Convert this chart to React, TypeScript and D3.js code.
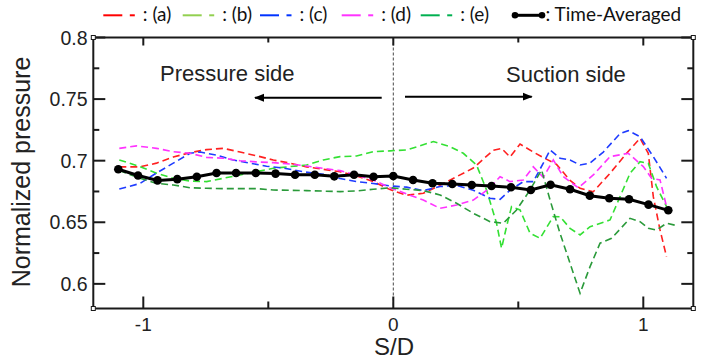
import React from "react";
import * as d3 from "d3";

// ---------- data ----------
const avgX = [-1.1, -1.021, -0.943, -0.864, -0.786, -0.707, -0.629, -0.55, -0.471, -0.393, -0.314, -0.236, -0.157, -0.079, 0, 0.079, 0.157, 0.236, 0.314, 0.393, 0.471, 0.55, 0.629, 0.707, 0.786, 0.864, 0.943, 1.021, 1.1];
const avgY = [0.693, 0.688, 0.684, 0.685, 0.687, 0.69, 0.69, 0.69, 0.6895, 0.6886, 0.6886, 0.6873, 0.6886, 0.687, 0.6875, 0.6843, 0.6817, 0.6811, 0.6803, 0.6795, 0.6784, 0.6762, 0.6805, 0.6768, 0.6716, 0.6695, 0.6687, 0.6643, 0.6597];

const aX = [-1.096, -1.013, -0.947, -0.88, -0.813, -0.747, -0.68, -0.613, -0.547, -0.48, -0.413, -0.347, -0.28, -0.213, -0.147, -0.08, -0.013, 0.053, 0.12, 0.187, 0.253, 0.32, 0.4, 0.433, 0.467, 0.507, 0.56, 0.6, 0.653, 0.707, 0.747, 0.8, 0.867, 0.933, 0.987, 1.02, 1.04, 1.067, 1.093];
const aY = [0.695, 0.695, 0.698, 0.703, 0.7065, 0.709, 0.71, 0.707, 0.704, 0.7005, 0.698, 0.695, 0.693, 0.691, 0.6875, 0.683, 0.6765, 0.672, 0.6735, 0.68, 0.687, 0.694, 0.7085, 0.71, 0.703, 0.7135, 0.707, 0.7025, 0.697, 0.684, 0.6776, 0.6748, 0.6898, 0.706, 0.7182, 0.706, 0.6708, 0.6437, 0.622];

const bX = [-1.096, -1.013, -0.947, -0.88, -0.813, -0.747, -0.68, -0.613, -0.547, -0.48, -0.413, -0.347, -0.28, -0.213, -0.147, -0.08, -0.013, 0.053, 0.16, 0.227, 0.28, 0.333, 0.373, 0.413, 0.433, 0.453, 0.473, 0.507, 0.547, 0.587, 0.64, 0.667, 0.707, 0.747, 0.787, 0.867, 0.907, 0.947, 0.987, 1.02, 1.053, 1.093];
const bY = [0.7006, 0.6952, 0.6898, 0.6857, 0.6835, 0.683, 0.6857, 0.6884, 0.6911, 0.6938, 0.6952, 0.6965, 0.7006, 0.7033, 0.7038, 0.7073, 0.708, 0.7087, 0.7155, 0.7114, 0.706, 0.6965, 0.6762, 0.6492, 0.6289, 0.6465, 0.6627, 0.66, 0.6411, 0.637, 0.6546, 0.6545, 0.6451, 0.6397, 0.6464, 0.6519, 0.6708, 0.6898, 0.6992, 0.6979, 0.6789, 0.6627];

const cX = [-1.096, -1.013, -0.947, -0.88, -0.813, -0.773, -0.707, -0.64, -0.573, -0.507, -0.44, -0.36, -0.28, -0.213, -0.147, -0.08, -0.013, 0.053, 0.12, 0.187, 0.253, 0.32, 0.387, 0.427, 0.467, 0.52, 0.56, 0.6, 0.627, 0.667, 0.707, 0.747, 0.787, 0.84, 0.907, 0.94, 0.987, 1.04, 1.093];
const cY = [0.677, 0.6815, 0.69, 0.698, 0.706, 0.707, 0.7045, 0.7005, 0.698, 0.6955, 0.694, 0.691, 0.689, 0.6855, 0.683, 0.6815, 0.6795, 0.6785, 0.6757, 0.679, 0.68, 0.676, 0.6695, 0.6686, 0.676, 0.683, 0.683, 0.698, 0.7087, 0.702, 0.7005, 0.6965, 0.698, 0.707, 0.722, 0.7244, 0.7195, 0.7033, 0.6857];

const dX = [-1.096, -1.027, -0.947, -0.88, -0.813, -0.747, -0.68, -0.613, -0.547, -0.48, -0.413, -0.347, -0.28, -0.213, -0.147, -0.08, -0.013, 0.053, 0.12, 0.187, 0.253, 0.32, 0.387, 0.427, 0.467, 0.52, 0.56, 0.6, 0.64, 0.68, 0.74, 0.8, 0.867, 0.94, 1.0, 1.033, 1.067, 1.093];
const dY = [0.71, 0.712, 0.71, 0.7073, 0.706, 0.7027, 0.702, 0.7, 0.699, 0.6984, 0.6973, 0.6957, 0.6938, 0.6919, 0.6884, 0.6843, 0.678, 0.673, 0.668, 0.6613, 0.664, 0.668, 0.678, 0.687, 0.683, 0.6843, 0.695, 0.6865, 0.7006, 0.687, 0.678, 0.6884, 0.7033, 0.706, 0.6952, 0.6857, 0.6843, 0.6627];

const eX = [-1.096, -1.013, -0.947, -0.88, -0.813, -0.747, -0.68, -0.547, -0.48, -0.347, -0.213, -0.147, -0.08, -0.013, 0.053, 0.12, 0.187, 0.253, 0.32, 0.387, 0.44, 0.493, 0.547, 0.593, 0.627, 0.667, 0.707, 0.747, 0.787, 0.827, 0.873, 0.947, 0.987, 1.02, 1.053, 1.093, 1.14];
const eY = [0.692, 0.6857, 0.6816, 0.6803, 0.678, 0.6776, 0.6773, 0.6773, 0.6762, 0.6757, 0.6749, 0.6754, 0.6768, 0.678, 0.6768, 0.6757, 0.6722, 0.6654, 0.6573, 0.6505, 0.6492, 0.66, 0.6762, 0.6925, 0.6681, 0.641, 0.6167, 0.5924, 0.614, 0.633, 0.637, 0.6532, 0.6505, 0.6451, 0.6437, 0.6492, 0.647];

const seriesNames = ["(a)", "(b)", "(c)", "(d)", "(e)"];
const lineColors = ["#ff2020", "#33e033", "#1f3cff", "#ff33ff", "#2a9a3a"];
const legendColors = ["#ff0000", "#92d050", "#0033ff", "#ff33ff", "#00b050"];
const xTicksMajor = [-1, 0, 1];
const xTicksMinor = [-0.5, 0.5];
const yTicksMajor = [0.6, 0.65, 0.7, 0.75, 0.8];
const yTicksMinor = [0.625, 0.675, 0.725, 0.775];
const yTickLabels = ["0.6", "0.65", "0.7", "0.75", "0.8"];
const xTickLabels = ["-1", "0", "1"];

export default function App() {
  const L = 93.3, R = 693.3, T = 37.5, B = 308.5;
  const x = d3.scaleLinear().domain([-1.2, 1.2]).range([L, R]);
  const y = d3.scaleLinear().domain([0.58, 0.8]).range([B, T]);
  const line = d3.line<[number, number]>().x((d) => x(d[0])).y((d) => y(d[1]));
  const zip = (xs: number[], ys: number[]) => xs.map((v, i) => [v, ys[i]] as [number, number]);
  const dashed = [zip(aX, aY), zip(bX, bY), zip(cX, cY), zip(dX, dY), zip(eX, eY)];
  const avg = zip(avgX, avgY);
  const axisFont = "'Liberation Sans', Arial, sans-serif";
  const legFont = "Lato, 'Open Sans', sans-serif";
  const legendStarts = [103.3, 182.7, 260, 341.7, 420.7];
  const frame = "#1a1a1a";

  return (
    <svg width={712} height={363} style={{ position: "absolute", left: 0, top: 0, background: "#fff" }}>
      <defs>
        <marker id="ah" viewBox="0 0 10 10" refX="9" refY="5" markerWidth="5" markerHeight="5" orient="auto-start-reverse">
          <path d="M0,1 L10,5 L0,9 Z" fill="#000" />
        </marker>
        <clipPath id="plot">
          <rect x={L} y={T} width={R - L} height={B - T} />
        </clipPath>
      </defs>

      {/* legend */}
      {seriesNames.map((n, i) => {
        const s = legendStarts[i];
        return (
          <g key={n}>
            <line x1={s} x2={s + 19} y1={15.3} y2={15.3} stroke={legendColors[i]} strokeWidth={2} />
            <line x1={s + 26.5} x2={s + 31.5} y1={15.3} y2={15.3} stroke={legendColors[i]} strokeWidth={2} />
            <text x={s + 39.5} y={21} fontFamily={legFont} fontSize={19} fill="#111">{": " + n}</text>
          </g>
        );
      })}
      <line x1={513.5} x2={543.5} y1={15.3} y2={15.3} stroke="#000" strokeWidth={3} />
      <circle cx={515} cy={15.3} r={3.3} fill="#000" />
      <circle cx={542} cy={15.3} r={3.3} fill="#000" />
      <text x={545.5} y={21} fontFamily={legFont} fontSize={19} fill="#111">: Time-Averaged</text>

      {/* zero dashed line */}
      <line x1={x(0)} x2={x(0)} y1={T} y2={B} stroke="#333" strokeWidth={0.9} strokeDasharray="3,2" />

      {/* series */}
      <g clipPath="url(#plot)">
        {dashed.map((d, i) => (
          <path key={i} d={line(d) || ""} fill="none" stroke={lineColors[i]} strokeWidth={1.6} strokeDasharray="7,4" />
        ))}
        <path d={line(avg) || ""} fill="none" stroke="#000" strokeWidth={3} />
        {avg.map((d, i) => (
          <circle key={i} cx={x(d[0])} cy={y(d[1])} r={4.3} fill="#000" />
        ))}
      </g>

      {/* frame */}
      <rect x={L} y={T} width={R - L} height={B - T} fill="none" stroke={frame} strokeWidth={2} />
      {/* ticks */}
      {yTicksMajor.map((v) => (
        <g key={"ym" + v}>
          <line x1={L} x2={L + 12} y1={y(v)} y2={y(v)} stroke={frame} strokeWidth={2} />
          <line x1={R} x2={R - 12} y1={y(v)} y2={y(v)} stroke={frame} strokeWidth={2} />
        </g>
      ))}
      {yTicksMinor.map((v) => (
        <g key={"yn" + v}>
          <line x1={L} x2={L + 6} y1={y(v)} y2={y(v)} stroke={frame} strokeWidth={2} />
          <line x1={R} x2={R - 6} y1={y(v)} y2={y(v)} stroke={frame} strokeWidth={2} />
        </g>
      ))}
      {xTicksMajor.map((v) => (
        <g key={"xm" + v}>
          <line x1={x(v)} x2={x(v)} y1={B} y2={B - 12} stroke={frame} strokeWidth={2} />
          <line x1={x(v)} x2={x(v)} y1={T} y2={T + 8} stroke={frame} strokeWidth={2} />
        </g>
      ))}
      {xTicksMinor.map((v) => (
        <g key={"xn" + v}>
          <line x1={x(v)} x2={x(v)} y1={B} y2={B - 7} stroke={frame} strokeWidth={2} />
          <line x1={x(v)} x2={x(v)} y1={T} y2={T + 5} stroke={frame} strokeWidth={2} />
        </g>
      ))}
      {/* corner squares */}
      {[[L, T], [R, T], [L, B], [R, B]].map((c, i) => (
        <rect key={i} x={c[0] - 2} y={c[1] - 2} width={4} height={4} fill="#fff" stroke={frame} strokeWidth={1} />
      ))}

      {/* tick labels */}
      {yTicksMajor.map((v, i) => (
        <text key={"yl" + v} x={87.5} y={y(v)} dy="0.36em" textAnchor="end" fontFamily={axisFont} fontSize={19.5} fill="#222">{yTickLabels[i]}</text>
      ))}
      {xTicksMajor.map((v, i) => (
        <text key={"xl" + v} x={x(v)} y={330.5} textAnchor="middle" fontFamily={axisFont} fontSize={19} fill="#222">{xTickLabels[i]}</text>
      ))}

      {/* axis titles */}
      <text x={394} y={355} textAnchor="middle" fontFamily={axisFont} fontSize={24} fill="#222">S/D</text>
      <text transform="translate(30,172) rotate(-90)" textAnchor="middle" fontFamily={axisFont} fontSize={25} fill="#222">Normalized pressure</text>

      {/* annotations */}
      <text x={160} y={80.5} fontFamily={axisFont} fontSize={22} fill="#222">Pressure side</text>
      <text x={506} y={81.5} fontFamily={axisFont} fontSize={22} fill="#222">Suction side</text>
      <line x1={381.7} x2={255} y1={97.7} y2={97.7} stroke="#000" strokeWidth={2} markerEnd="url(#ah)" />
      <line x1={405} x2={531.7} y1={96.7} y2={96.7} stroke="#000" strokeWidth={2} markerEnd="url(#ah)" />
    </svg>
  );
}
